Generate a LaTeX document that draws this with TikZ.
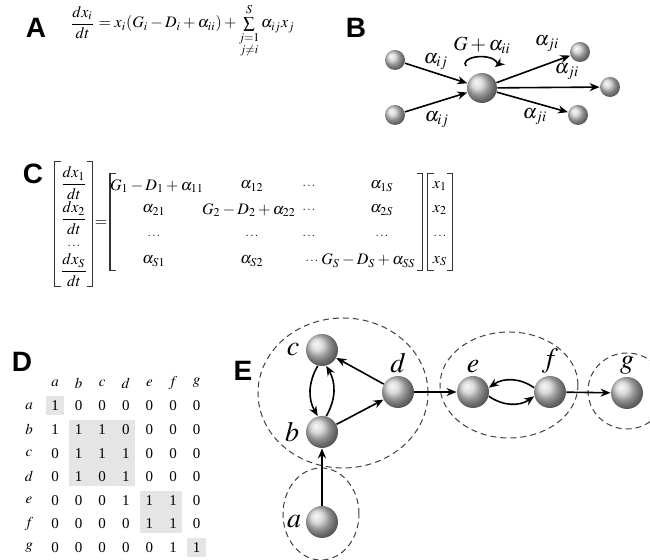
\documentclass[tikz,border=0pt]{standalone}
\usepackage{amsmath}
\usepackage{mathptmx}
\usepackage{fontspec}
\setmainfont{Liberation Serif}
\newfontfamily\panelfont{Liberation Sans}
\usetikzlibrary{arrows.meta,positioning}

\tikzset{
  panel/.style={font=\panelfont\bfseries\fontsize{14}{16}\selectfont},
  sph/.style={circle,inner sep=0pt,minimum size=#1,ball color=gray!38},
  arr/.style={-{Stealth[length=5pt,width=4pt]},line width=0.8pt},
  grp/.style={dash pattern=on 3pt off 2pt,line width=0.5pt,black!75},
  brk/.style={line width=0.5pt,black!80},
  lbl/.style={font=\fontsize{14}{16}\selectfont,inner sep=1pt},
  wlbl/.style={font=\fontsize{10}{12}\selectfont,inner sep=1pt},
  ctxt/.style={font=\fontsize{8}{9}\selectfont,inner sep=0pt},
  cdot/.style={font=\fontsize{6}{7}\selectfont,inner sep=0pt},
  dtxt/.style={font=\fontsize{7.5}{9}\selectfont,inner sep=0pt}
}

\begin{document}
\begin{tikzpicture}[x=0.5pt,y=0.5pt]
  \useasboundingbox (0,0) rectangle (650,-560);
  % A: rate equation
  \node[panel] (labA) at (36,-28) {A};
  \node[anchor=west,font=\fontsize{8}{9}\selectfont] (eqA) at (63,-31)
    {$\dfrac{dx_i}{dt}=x_i(G_i-D_i+\alpha_{ii})+\sum\limits_{\substack{j=1\\ j\neq i}}^{S}\alpha_{ij}x_j$};
  % B: one species with its links
  \node[panel] (labB) at (356,-28) {B};
  \node[sph=15pt] (ctr) at (482,-88) {};
  \node[sph=10pt] (in1) at (395,-60) {};
  \node[sph=10pt] (in2) at (395,-115) {};
  \node[sph=10pt] (out1) at (580,-52) {};
  \node[sph=10pt] (out2) at (610,-87) {};
  \node[sph=10pt] (out3) at (578,-115) {};
  \draw[arr] (in1) -- (ctr);
  \draw[arr] (in2) -- (ctr);
  \draw[arr] (ctr) -- (out1);
  \draw[arr] (ctr) -- (out2);
  \draw[arr] (ctr) -- (out3);
  \draw[arr] ([xshift=-8pt,yshift=3.3pt]ctr.north) arc[start angle=200,end angle=-30,x radius=8pt,y radius=3.5pt];
  \node[wlbl] (gaii) at (482,-45) {$G+\alpha_{ii}$};
  \node[wlbl] (aij1) at (436,-62) {$\alpha_{ij}$};
  \node[wlbl] (aij2) at (437,-120) {$\alpha_{ij}$};
  \node[wlbl] (aji1) at (547,-44) {$\alpha_{ji}$};
  \node[wlbl] (aji2) at (567,-72) {$\alpha_{ji}$};
  \node[wlbl] (aji3) at (535,-117) {$\alpha_{ji}$};
  % C: matrix form
  \node[panel] (labC) at (33,-174) {C};
  \draw[brk] (61,-162) -- (55,-162) -- (55,-287) -- (61,-287);
  \draw[brk] (87,-162) -- (93,-162) -- (93,-287) -- (87,-287);
  \node[ctxt] (v1) at (74,-183) {$\dfrac{dx_1}{dt}$};
  \node[ctxt] (v2) at (74,-218) {$\dfrac{dx_2}{dt}$};
  \node[cdot] (v3) at (74,-246) {$\ldots$};
  \node[ctxt] (v4) at (74,-270) {$\dfrac{dx_S}{dt}$};
  \node[ctxt] (eq) at (101,-224) {$=$};
  \draw[brk] (116,-174) -- (110,-174) -- (110,-271) -- (116,-271);
  \draw[brk] (417,-174) -- (423,-174) -- (423,-271) -- (417,-271);
  \node[ctxt] (m11) at (157,-186) {$G_1-D_1+\alpha_{11}$};
  \node[ctxt] (m12) at (252,-186) {$\alpha_{12}$};
  \node[cdot] (m13) at (309,-186) {$\ldots$};
  \node[ctxt] (m14) at (382,-186) {$\alpha_{1S}$};
  \node[ctxt] (m21) at (154,-210) {$\alpha_{21}$};
  \node[ctxt] (m22) at (249,-210) {$G_2-D_2+\alpha_{22}$};
  \node[cdot] (m23) at (309,-210) {$\ldots$};
  \node[ctxt] (m24) at (382,-210) {$\alpha_{2S}$};
  \foreach \cx [count=\j] in {154,252,309,382}
    \node[cdot] (m3\j) at (\cx,-236) {$\ldots$};
  \node[ctxt] (m41) at (154,-261) {$\alpha_{S1}$};
  \node[ctxt] (m42) at (252,-261) {$\alpha_{S2}$};
  \node[cdot] (m43) at (312,-261) {$\ldots$};
  \node[ctxt,anchor=east] (m44) at (416,-261) {$G_S-D_S+\alpha_{SS}$};
  \draw[brk] (434,-174) -- (428,-174) -- (428,-271) -- (434,-271);
  \draw[brk] (447,-174) -- (453,-174) -- (453,-271) -- (447,-271);
  \node[ctxt] (x1) at (440,-186) {$x_1$};
  \node[ctxt] (x2) at (440,-210) {$x_2$};
  \node[cdot] (x3) at (440,-236) {$\ldots$};
  \node[ctxt] (x4) at (440,-261) {$x_S$};
  % D: adjacency matrix
  \node[panel] (labD) at (22,-362) {D};
  \fill[gray!20] (45.5,-396.5) rectangle (64.5,-415.5);
  \fill[gray!20] (69,-420) rectangle (135.3,-486.3);
  \fill[gray!20] (139.9,-490.9) rectangle (182.5,-533.5);
  \fill[gray!20] (187,-538) rectangle (206,-557);
  \foreach \nm [count=\j] in {a,b,c,d,e,f,g}
    \node[dtxt] (h\j) at ({55+23.6*(\j-1)},-383) {$\nm$};
  \foreach \nm/\vals [count=\i] in {a/{1,0,0,0,0,0,0},b/{1,1,1,0,0,0,0},c/{0,1,1,1,0,0,0},
      d/{0,1,0,1,0,0,0},e/{0,0,0,1,1,1,0},f/{0,0,0,0,1,1,0},g/{0,0,0,0,0,1,1}}{
    \node[dtxt] (r\i) at (29,{-406-23.6*(\i-1)}) {$\nm$};
    \foreach \v [count=\j] in \vals
      \node[dtxt] (m\i\j) at ({55+23.6*(\j-1)},{-406-23.6*(\i-1)}) {\v};
  }
  % E: graph with its strongly connected parts
  \node[panel] (labE) at (243,-371) {E};
  \draw[grp] (343,-393) ellipse [x radius=85,y radius=75];
  \draw[grp] (509,-385) ellipse [x radius=69,y radius=53];
  \draw[grp] (627,-391) ellipse [x radius=39,y radius=38];
  \draw[grp] (321,-514) ellipse [x radius=38,y radius=46];
  \node[sph=16pt] (c) at (322,-350) {};
  \node[sph=16pt] (b) at (322,-432) {};
  \node[sph=16pt] (d) at (398,-392) {};
  \node[sph=16pt] (e) at (473,-392) {};
  \node[sph=16pt] (f) at (550,-392) {};
  \node[sph=16pt] (g) at (627,-393) {};
  \node[sph=16pt] (a) at (322,-522) {};
  \node[lbl,left=2pt of c] (lc) {$c$};
  \node[lbl,left=2pt of b] (lb) {$b$};
  \node[lbl,left=1pt of a] (la) {$a$};
  \node[lbl,above=0pt of d] (ld) {$d$};
  \node[lbl,above=0pt of e] (le) {$e$};
  \node[lbl,above=0pt of f] (lf) {$f$};
  \node[lbl,above=0pt of g] (lg) {$g$};
  \draw[arr] (a) -- (b);
  \draw[arr] (b) -- (d);
  \draw[arr] (d) -- (c);
  \draw[arr] (c.255) to[bend right=30] (b.105);
  \draw[arr] (b.75) to[bend right=30] (c.285);
  \draw[arr] (d) -- (e);
  \draw[arr] (f.165) to[bend right=35] (e.15);
  \draw[arr] (e.345) to[bend right=35] (f.195);
  \draw[arr] (f) -- (g);
\end{tikzpicture}
\end{document}
